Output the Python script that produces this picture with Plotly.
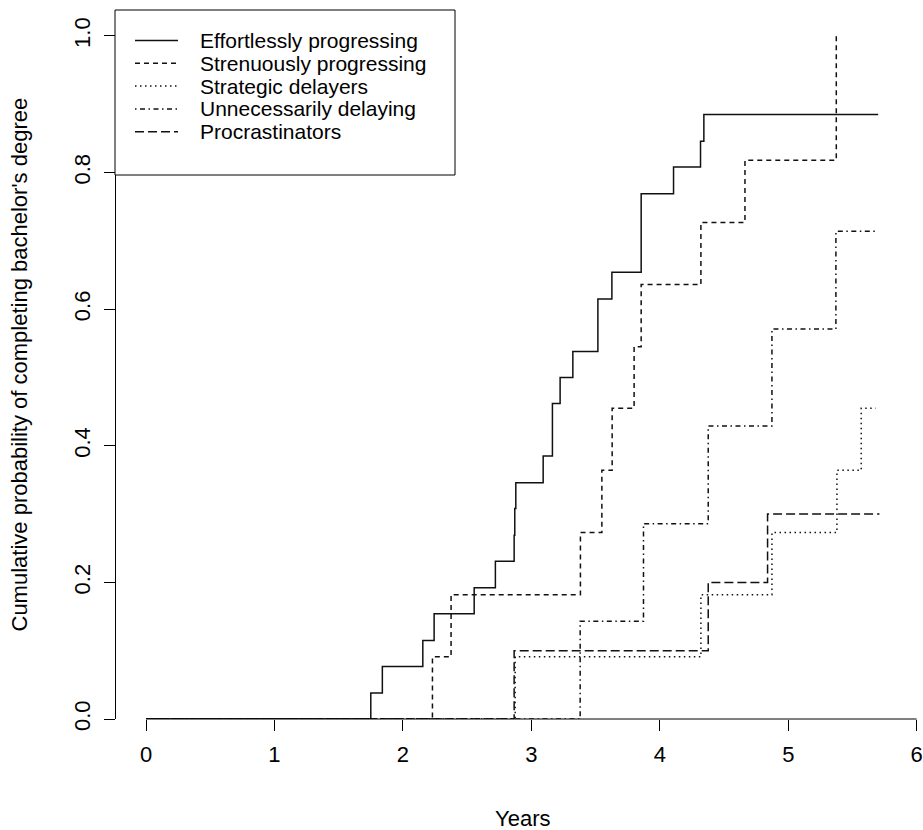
import plotly.graph_objects as go

# ---------------- data ----------------
series_names = ["Effortlessly progressing", "Strenuously progressing", "Strategic delayers",
                "Unnecessarily delaying", "Procrastinators"]

effortless_t = [0, 1.75, 1.84, 2.155, 2.243, 2.555, 2.72, 2.866, 2.871, 2.879, 3.092, 3.164,
                3.224, 3.323, 3.518, 3.627, 3.855, 4.107, 4.317, 4.343, 5.70]
effortless_p = [0, 0.038, 0.077, 0.115, 0.154, 0.192, 0.231, 0.269, 0.308, 0.346, 0.385, 0.462,
                0.500, 0.538, 0.615, 0.654, 0.769, 0.808, 0.846, 0.885, 0.885]

strenuous_t = [0, 2.23, 2.375, 3.382, 3.549, 3.629, 3.80, 3.855, 4.32, 4.663, 5.374]
strenuous_p = [0, 0.091, 0.182, 0.273, 0.364, 0.455, 0.545, 0.636, 0.727, 0.818, 1.0]

strategic_t = [0, 2.874, 4.32, 4.873, 5.379, 5.568, 5.68]
strategic_p = [0, 0.091, 0.182, 0.273, 0.364, 0.455, 0.455]

unnecessary_t = [0, 3.38, 3.873, 4.377, 4.873, 5.371, 5.70]
unnecessary_p = [0, 0.143, 0.286, 0.429, 0.571, 0.714, 0.714]

procrast_t = [0, 2.866, 4.377, 4.839, 5.71]
procrast_p = [0, 0.1, 0.2, 0.3, 0.3]

x_ticks = [0, 1, 2, 3, 4, 5, 6]
y_ticks = [0, 0.2, 0.4, 0.6, 0.8, 1.0]
y_tick_labels = ["0.0", "0.2", "0.4", "0.6", "0.8", "1.0"]

x_title = "Years"
y_title = "Cumulative probability of completing bachelor's degree"

# ---------------- styling / layout ----------------
W, H = 923, 830
ML, MR, MT, MB = 100, 0, 10, 111
PW = W - ML - MR
PH = H - MT - MB
FONT = "Liberation Sans, Arial, Helvetica, sans-serif"
INK = "#111111"

X0_PIX, UNIT_PIX = 146, 128.45      # pixel of x=0 and pixels per year


def px(xpix):
    return (xpix - ML) / PW


def py(ypix):
    return (H - MB - ypix) / PH


dashes = ["solid", "5px,4px", "1.5px,3.5px", "1.5px,3.5px,5px,3.5px", "9px,4px"]
series_t = [effortless_t, strenuous_t, strategic_t, unnecessary_t, procrast_t]
series_p = [effortless_p, strenuous_p, strategic_p, unnecessary_p, procrast_p]

fig = go.Figure()
for name, t, p, d in zip(series_names, series_t, series_p, dashes):
    fig.add_trace(go.Scatter(
        x=t, y=p, name=name, mode="lines",
        line=dict(shape="hv", color=INK, width=1.5, dash=d),
        showlegend=False, hoverinfo="skip",
    ))

# x-axis line spans only 0..6 (like R's axis()), drawn as a line shape in data units
x_axis_line = dict(type="line", xref="x", yref="paper", x0=x_ticks[0], x1=x_ticks[-1],
                   y0=0, y1=0, line=dict(color="black", width=1), layer="above")

# ---- legend drawn as a boxed key (top-left, like R's legend) ----
leg_left, leg_right, leg_top, leg_bottom = 115, 455, 10, 175
row0, row_gap = 40.5, 22.8
sample_x0, sample_x1, text_x = 135, 178, 198

shapes = [x_axis_line,
          dict(type="rect", xref="paper", yref="paper",
               x0=px(leg_left), x1=px(leg_right), y0=py(leg_bottom), y1=py(leg_top),
               line=dict(color="black", width=1), fillcolor="white", layer="above")]
annotations = []
for i, (name, d) in enumerate(zip(series_names, dashes)):
    ry = row0 + i * row_gap
    shapes.append(dict(type="line", xref="paper", yref="paper",
                       x0=px(sample_x0), x1=px(sample_x1), y0=py(ry), y1=py(ry),
                       line=dict(color=INK, width=1.5, dash=d), layer="above"))
    annotations.append(dict(text=name, xref="paper", yref="paper", x=px(text_x), y=py(ry),
                            xanchor="left", yanchor="middle", showarrow=False,
                            font=dict(family=FONT, size=21, color="black")))

annotations.append(dict(text=x_title, xref="paper", yref="paper", x=px(522), y=py(818),
                        xanchor="center", yanchor="middle", showarrow=False,
                        font=dict(family=FONT, size=22, color="black")))
annotations.append(dict(text=y_title, xref="paper", yref="paper", x=px(19), y=py(364.5),
                        xanchor="center", yanchor="middle", showarrow=False, textangle=-90,
                        font=dict(family=FONT, size=22, color="black")))

x_max = (W - MR - X0_PIX) / UNIT_PIX

fig.update_layout(
    width=W, height=H, autosize=False,
    margin=dict(l=ML, r=MR, t=MT, b=MB, pad=0),
    paper_bgcolor="white", plot_bgcolor="white",
    showlegend=False,
    font=dict(family=FONT, size=22, color="black"),
    xaxis=dict(domain=[px(X0_PIX), 1], range=[0, x_max], anchor="y",
               tickvals=x_ticks, ticks="outside", ticklen=11, tickwidth=1, tickcolor="black",
               showline=False, showgrid=False, zeroline=False,
               ticklabelstandoff=5,
               tickfont=dict(family=FONT, size=22, color="black")),
    yaxis=dict(domain=[0, 1], range=[0, 1.038], anchor="free", position=px(115),
               tickvals=y_ticks, ticktext=y_tick_labels, tickangle=-90,
               ticks="outside", ticklen=11, tickwidth=1, tickcolor="black",
               showline=True, linecolor="black", linewidth=1,
               showgrid=False, zeroline=False,
               ticklabelstandoff=5,
               tickfont=dict(family=FONT, size=22, color="black")),
    shapes=shapes,
    annotations=annotations,
)

fig.write_html("out.html")
